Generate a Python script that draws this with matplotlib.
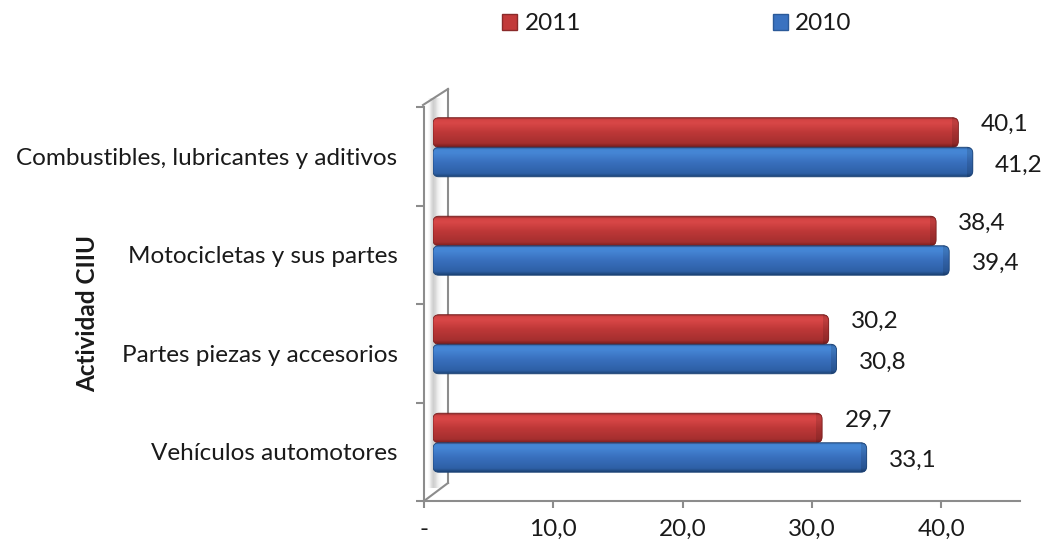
import matplotlib.pyplot as plt
import numpy as np
from matplotlib.colors import LinearSegmentedColormap, to_rgb
from matplotlib.patches import FancyBboxPatch, Patch

plt.rcParams['font.family'] = ['Lato', 'DejaVu Sans']

# datos
categorias = ['Vehículos automotores', 'Partes piezas y accesorios',
              'Motocicletas y sus partes', 'Combustibles, lubricantes y aditivos']
v2011 = [29.7, 30.2, 38.4, 40.1]
v2010 = [33.1, 30.8, 39.4, 41.2]
xticks = [0, 10, 20, 30, 40]
xticklabels = ['-', '10,0', '20,0', '30,0', '40,0']

W, H = 1048, 546
gris = '#8C8C8C'
texto = '#1A1A1A'
tam = 17.5

fig = plt.figure(figsize=(W / 100, H / 100), dpi=100)


def caja(x0, y0, x1, y1):
    # rectangulo en pixeles (origen arriba a la izquierda) -> fraccion de figura
    return [x0 / W, 1 - y1 / H, (x1 - x0) / W, (y1 - y0) / H]


# pared lateral del grafico 3D
fondo = fig.add_axes([0, 0, 1, 1], zorder=0)
sombra = np.array([[0.03, 0.2, 0.3, 0.25, 0.15, 0.07, 0.02, 0.0, 0.0]])
fondo.imshow(sombra, cmap='Greys', vmin=0, vmax=1, extent=(428, 447, 488, 98),
             aspect='auto', interpolation='bilinear')
fondo.plot([448, 448], [89, 483], color=gris, lw=1.5)
fondo.plot([423, 448], [105, 89], color=gris, lw=1.5)
fondo.plot([424, 448], [501, 483], color=gris, lw=1.5)
fondo.set_xlim(0, W)
fondo.set_ylim(H, 0)
fondo.axis('off')

# ejes de fondo: escala, marcas y etiquetas
ax = fig.add_axes(caja(424, 107, 1020, 501), zorder=1)
ax.set_facecolor('none')
ax.set_xlim(0, 46.1)
ax.set_ylim(-0.5, 3.5)
for s in ['top', 'right']:
    ax.spines[s].set_visible(False)
for s in ['left', 'bottom']:
    ax.spines[s].set_color(gris)
    ax.spines[s].set_linewidth(1.5)
ax.set_xticks(xticks, xticklabels)
ax.tick_params(axis='x', length=5, width=1.5, color=gris, pad=8,
               labelsize=tam, labelcolor=texto)
ax.set_yticks(np.arange(-0.5, 4, 1), [''] * 5)
ax.tick_params(axis='y', which='major', length=6, width=1.5, color=gris)
ax.set_yticks(range(4), categorias, minor=True)
ax.tick_params(axis='y', which='minor', length=0, pad=19,
               labelsize=tam, labelcolor=texto)

# ejes frontales para las barras (desplazados por la profundidad)
fa = fig.add_axes(caja(433, 98, 1037, 492), zorder=2)
fa.set_facecolor('none')
fa.axis('off')

aspecto = (604 / 46.1) / (394 / 4)


def mapa(colores):
    return LinearSegmentedColormap.from_list('m', colores)


rojo = [(0, '#7A1E1E'), (0.12, '#A52F2F'), (0.5, '#BE3838'),
        (0.8, '#D84747'), (0.92, '#D44444'), (1, '#8A2A2A')]
azul = [(0, '#1C4376'), (0.12, '#2E60A6'), (0.5, '#3970BE'),
        (0.8, '#4585D4'), (0.92, '#4587D5'), (1, '#2B5A99')]


def oscurecer(puntos, f):
    return [(p, tuple(c * f for c in to_rgb(col))) for p, col in puntos]


def barra3d(y, v, h, puntos, borde):
    g = np.linspace(0, 1, 64).reshape(-1, 1)
    forma = FancyBboxPatch((0, y - h / 2), v, h,
                           boxstyle='round,pad=0,rounding_size=0.45',
                           mutation_aspect=aspecto, fc='none', ec='none')
    fa.add_patch(forma)
    im = fa.imshow(g, cmap=mapa(puntos), extent=(0, v, y - h / 2, y + h / 2),
                   origin='lower', aspect='auto', interpolation='bilinear')
    im.set_clip_path(forma)
    tapa = fa.imshow(g, cmap=mapa(oscurecer(puntos, 0.88)),
                     extent=(v - 0.45, v, y - h / 2, y + h / 2),
                     origin='lower', aspect='auto', interpolation='bilinear')
    tapa.set_clip_path(forma)
    contorno = FancyBboxPatch((0, y - h / 2), v, h,
                              boxstyle='round,pad=0,rounding_size=0.45',
                              mutation_aspect=aspecto, fc='none', ec=borde,
                              lw=0.6)
    fa.add_patch(contorno)


alto = 0.3
for i, (a, b) in enumerate(zip(v2011, v2010)):
    barra3d(i + 0.15, a, alto, rojo, '#7A1E1E')
    barra3d(i - 0.15, b, alto, azul, '#1C4376')
    fa.text(a + 1.7, i + 0.15 + 0.08, f'{a:.1f}'.replace('.', ','),
            ha='left', va='center', fontsize=tam, color=texto)
    fa.text(b + 1.7, i - 0.15 - 0.03, f'{b:.1f}'.replace('.', ','),
            ha='left', va='center', fontsize=tam, color=texto)

fa.set_xlim(0, 46.1)
fa.set_ylim(-0.5, 3.5)

# leyenda
manejadores = [Patch(fc='#C23A3A', ec='#8A2A2A'), Patch(fc='#3A72C0', ec='#2B5A99')]
fig.legend(manejadores, ['2011', '2010'], loc='center',
           bbox_to_anchor=(677 / W, 1 - 24 / H), ncol=2, frameon=False,
           fontsize=tam, handlelength=0.62, handleheight=0.62,
           handletextpad=0.3, columnspacing=7.9, labelcolor=texto)

fig.text(88 / W, 1 - 313 / H, 'Actividad CIIU', rotation=90, fontweight='bold',
         fontsize=tam, ha='center', va='center', color=texto)

fig.savefig('out.png', dpi=100)
